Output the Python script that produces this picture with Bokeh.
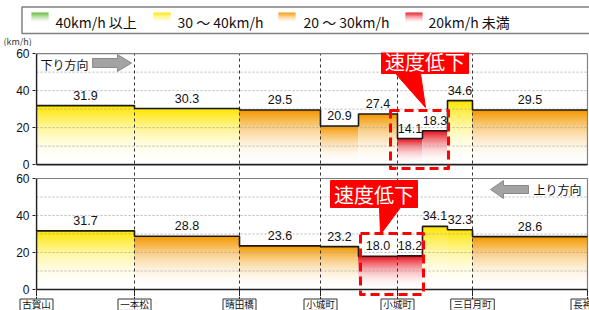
from bokeh.plotting import figure
from bokeh.models import Range1d, FixedTicker, Plot
from bokeh.layouts import column
from bokeh.core.properties import value
from bokeh.embed import file_html
from bokeh.resources import INLINE

# ---------------- data ----------------
station_names = ["古賀山", "一本松", "晴田橋", "小城町", "小城町", "三日月町", "長神田"]
station_km = [0.0, 2.45, 5.075, 7.1, 9.025, 10.9, 13.775]
section_bounds_km = [0.0, 2.45, 5.075, 7.1, 8.05, 9.025, 9.65, 10.275, 10.9, 13.775]
down_speed = [31.9, 30.3, 29.5, 20.9, 27.4, 14.1, 18.3, 34.6, 29.5]   # 下り方向
up_speed = [31.7, 28.8, 23.6, 23.2, 18.0, 18.2, 34.1, 32.3, 28.6]     # 上り方向
y_tick_values = [0, 20, 40, 60]
grid_values = [10, 20, 30, 40, 50]
legend_labels = ["40km/h 以上", "30 ～ 40km/h", "20 ～ 30km/h", "20km/h 未満"]
band_colors = ["#5DB532", "#FFE600", "#F39800", "#E8141E"]

# ---------------- layout helpers (reference pixel -> data) ----------------
PX_X0, PX_PER_KM = 36.0, 40.0
PX_Y0, PX_PER_UNIT = 289.0, 1.85
TOP_OFF = 67.5          # vertical offset of the upper (下り) panel
X_END = section_bounds_km[-1]
W = 589
NUM = "Liberation Sans"
JP = "Noto Sans CJK JP"
HAS_FRAME_ALIGN = "frame_align" in Plot.properties()


def dx(X):
    return (X - PX_X0) / PX_PER_KM


def dy(Y):
    return (PX_Y0 - Y) / PX_PER_UNIT


def band_color(v):
    if v >= 40:
        return band_colors[0]
    if v >= 30:
        return band_colors[1]
    if v >= 20:
        return band_colors[2]
    return band_colors[3]


def blend(hexc, t):
    r, g, b = int(hexc[1:3], 16), int(hexc[3:5], 16), int(hexc[5:7], 16)
    return "#%02x%02x%02x" % (round(255 + (r - 255) * t), round(255 + (g - 255) * t), round(255 + (b - 255) * t))


def bare(fig):
    fig.outline_line_color = None
    fig.background_fill_color = "white"
    fig.border_fill_color = "white"
    fig.grid.visible = False
    if HAS_FRAME_ALIGN:
        fig.frame_align = False
    return fig


# =============== legend strip (page rows 0 .. 46) ===============
H_LEG = 46
leg = bare(figure(width=W, height=H_LEG, x_range=Range1d(0, W), y_range=Range1d(H_LEG, 0),
                  x_axis_type=None, y_axis_type=None, output_backend="svg", toolbar_location=None,
                  min_border_left=0, min_border_right=0, min_border_top=0, min_border_bottom=0))
leg.quad(left=[21.5], right=[700], top=[6.5], bottom=[33], fill_color="white",
         line_color="#7F7F7F", line_width=1.5)
sw_left = [31, 153, 278, 405]
txt_left = [55, 177, 303, 428]
steps = 10
sL, sR, sT, sB, sC = [], [], [], [], []
for col, sl in zip(band_colors, sw_left):
    for s in range(steps):
        sL.append(sl)
        sR.append(sl + 17)
        sT.append(12 + s * 9.5 / steps)
        sB.append(12 + (s + 1) * 9.5 / steps + 0.3)
        sC.append(blend(col, (1 - s / steps) ** 1.4))
leg.quad(left=sL, right=sR, top=sT, bottom=sB, fill_color=sC, line_color=None)
leg.text(x=txt_left, y=[21] * 4, text=legend_labels, text_align="left", text_baseline="middle",
         text_font=value(JP), text_font_size="14px", text_color="#111111")
leg.text(x=[3], y=[40.5], text=["(km/h)"], text_align="left", text_baseline="middle",
         text_font=value(JP), text_font_size="9px", text_color="#333333")

# =============== main chart (page rows 46 .. 296) ===============
H_MAIN = 250
p = bare(figure(width=W, height=H_MAIN,
                x_range=Range1d(dx(35), dx(588)), y_range=Range1d(dy(296), dy(52)),
                output_backend="svg", toolbar_location=None,
                min_border_left=35, min_border_right=1, min_border_top=6, min_border_bottom=0))

# gradient fills
K = 28
L, R, B, T, C = [], [], [], [], []
for values, off in ((down_speed, TOP_OFF), (up_speed, 0.0)):
    for i, v in enumerate(values):
        base = band_color(v)
        for k in range(K):
            L.append(section_bounds_km[i])
            R.append(section_bounds_km[i + 1])
            B.append(off + v * k / K)
            T.append(off + v)
            C.append(blend(base, ((k + 1) / K) ** 2.1))
p.quad(left=L, right=R, bottom=B, top=T, fill_color=C, line_color=None)

# grid lines
for off in (TOP_OFF, 0.0):
    p.segment(x0=[0] * len(grid_values), x1=[X_END] * len(grid_values),
              y0=[off + g for g in grid_values], y1=[off + g for g in grid_values],
              line_color="#A8A8A8", line_dash="2 2", line_width=1, line_alpha=0.8)

# station dividers
inner = station_km[1:-1]
p.segment(x0=inner, x1=inner, y0=[0] * len(inner), y1=[TOP_OFF + 60] * len(inner),
          line_color="#333333", line_dash="3 3", line_width=1)
# station ticks below the axis
p.segment(x0=station_km, x1=station_km, y0=[0] * len(station_km), y1=[dy(296)] * len(station_km),
          line_color="#222222", line_width=1)

# panel borders
p.segment(x0=[0, 0], x1=[X_END, X_END], y0=[TOP_OFF + 60, 60], y1=[TOP_OFF + 60, 60],
          line_color="#808080", line_width=1.2)
p.segment(x0=[X_END, X_END], x1=[X_END, X_END], y0=[TOP_OFF, 0], y1=[TOP_OFF + 60, 60],
          line_color="#808080", line_width=1.2)
p.segment(x0=[0, 0], x1=[0, 0], y0=[TOP_OFF, 0], y1=[TOP_OFF + 60, 60],
          line_color="#222222", line_width=1.6)
p.segment(x0=[0, 0], x1=[X_END, X_END], y0=[TOP_OFF, 0], y1=[TOP_OFF, 0],
          line_color="#222222", line_width=1.6)

# step outlines & value labels
mids = [(section_bounds_km[i] + section_bounds_km[i + 1]) / 2 for i in range(len(down_speed))]
for values, off in ((down_speed, TOP_OFF), (up_speed, 0.0)):
    p.step(x=section_bounds_km, y=[v + off for v in values] + [values[-1] + off], mode="after",
           line_color="#1a1a1a", line_width=1.6)
    p.text(x=mids, y=[v + off for v in values], text=["%.1f" % v for v in values],
           text_align="center", text_baseline="middle", y_offset=-10.5,
           text_font=value(NUM), text_font_size="12.5px", text_color="#111111")

# callouts
p.quad(left=[dx(390), dx(360)], right=[dx(448), dx(423)], top=[dy(110), dy(233)], bottom=[dy(168), dy(294)],
       fill_color=None, line_color="#FF0000", line_width=3, line_dash="9 5", line_join="round")
call_top = [(381, 47), (468, 47), (468, 73), (420, 73), (425, 107), (395, 73), (381, 73)]
call_bot = [(330, 180), (417, 180), (417, 207), (400, 207), (380, 234), (379, 207), (330, 207)]
p.patches(xs=[[dx(a) for a, b in call_top], [dx(a) for a, b in call_bot]],
          ys=[[dy(b) for a, b in call_top], [dy(b) for a, b in call_bot]],
          fill_color="#FF0000", line_color="#FF0000")
p.text(x=[dx(424.5), dx(373.5)], y=[dy(60.5), dy(194)], text=["速度低下", "速度低下"],
       text_align="center", text_baseline="middle", text_font=value(JP),
       text_font_size="20px", text_color="white")

# direction arrows
arr_down = [(92, 58), (117, 58), (117, 54), (131, 62.5), (117, 71), (117, 67), (92, 67)]
arr_up = [(490, 189), (503, 180), (503, 185), (528, 185), (528, 193), (503, 193), (503, 198)]
p.patches(xs=[[dx(a) for a, b in arr_down], [dx(a) for a, b in arr_up]],
          ys=[[dy(b) for a, b in arr_down], [dy(b) for a, b in arr_up]],
          fill_color="#A3A3A3", line_color="#8A8A8A", line_width=1)
p.text(x=[dx(40), dx(533)], y=[dy(63.5), dy(189)], text=["下り方向", "上り方向"],
       text_align="left", text_baseline="middle", text_font=value(JP),
       text_font_size="12px", text_color="#111111")

# axes
ticks = list(y_tick_values) + [TOP_OFF + t for t in y_tick_values]
p.yaxis.ticker = FixedTicker(ticks=ticks)
p.yaxis.major_label_overrides = {TOP_OFF + t: str(t) for t in y_tick_values}
p.yaxis.axis_line_color = None
p.yaxis.major_tick_out = 3
p.yaxis.major_tick_in = 0
p.yaxis.minor_tick_out = 0
p.yaxis.minor_tick_in = 0
p.yaxis.major_tick_line_color = "#222222"
p.yaxis.major_label_standoff = 3
p.yaxis.major_label_text_font = NUM
p.yaxis.major_label_text_font_size = "12px"
p.yaxis.major_label_text_color = "#111111"
p.xaxis.visible = False

# =============== station labels strip (page rows 296 .. 310) ===============
H_BOT = 14
bot = bare(figure(width=W, height=H_BOT, x_range=Range1d(dx(0), dx(W)), y_range=Range1d(H_BOT, 0),
                  x_axis_type=None, y_axis_type=None, output_backend="svg", toolbar_location=None,
                  min_border_left=0, min_border_right=0, min_border_top=0, min_border_bottom=0))
bot.segment(x0=station_km, x1=station_km, y0=[0] * len(station_km), y1=[2.5] * len(station_km),
            line_color="#222222", line_width=1)
box_w = [10.5 * len(n) + 1.5 for n in station_names]
bot.rect(x=station_km, y=[8.2] * len(station_km), width=box_w, width_units="screen",
         height=[11.4] * len(station_km), fill_color="white", line_color="#333333", line_width=1)
bot.text(x=station_km, y=[7.0] * len(station_km), text=station_names, text_align="center",
         text_baseline="middle", text_font=value(JP), text_font_size="9.5px", text_color="#111111")

layout = column(leg, p, bot, spacing=0)
open("out.html", "w").write(file_html(layout, INLINE))
